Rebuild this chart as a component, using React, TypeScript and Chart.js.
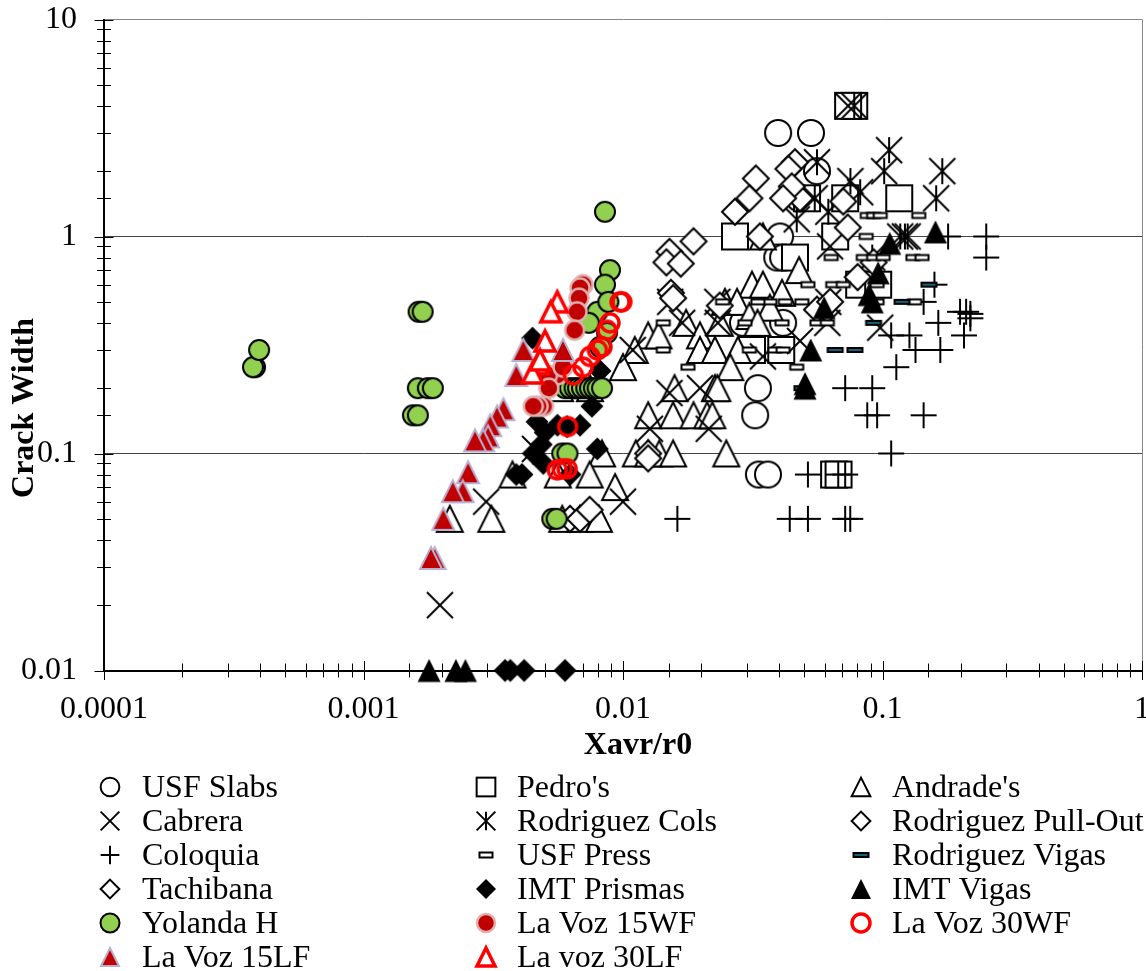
import React, { useEffect, useRef } from "react";
import { Chart, registerables } from "chart.js";

Chart.register(...registerables);

const usfSlabsX = [0.0396, 0.053, 0.0559, 0.0477, 0.0403, 0.0393, 0.0414, 0.0331, 0.0323, 0.0334, 0.0362, 0.0414, 0.029];
const usfSlabsY = [3, 3, 2, 1.5, 1, 0.8, 0.8, 0.2, 0.15, 0.08, 0.08, 0.4, 0.4];
const pedroX = [0.0778, 0.0737, 0.027, 0.046, 0.0512, 0.0718, 0.116, 0.0657, 0.0813, 0.0962, 0.0314, 0.0407, 0.0651, 0.0677];
const pedroY = [4, 4, 1, 0.8, 1.5, 1.5, 1.5, 1, 0.6, 0.6, 0.3, 0.3, 0.08, 0.08];
const andradeX = [0.0346, 0.0477, 0.0314, 0.0346, 0.0247, 0.0275, 0.041, 0.0368, 0.0307, 0.0125, 0.0137, 0.0175, 0.0198, 0.0198, 0.0226, 0.0277, 0.033, 0.0236, 0.0111, 0.01, 0.0259, 0.0158, 0.0226, 0.0231, 0.0125, 0.0156, 0.0187, 0.0211, 0.0221, 0.0112, 0.0125, 0.0138, 0.0156, 0.025, 0.0083, 0.00375, 0.00561, 0.00744, 0.00932, 0.00215, 0.00311, 0.00583, 0.00683, 0.00808, 0.00572, 0.00746];
const andradeY = [1, 0.7, 0.6, 0.6, 0.5, 0.5, 0.55, 0.47, 0.43, 0.35, 0.35, 0.4, 0.35, 0.3, 0.3, 0.3, 0.4, 0.4, 0.3, 0.25, 0.25, 0.2, 0.2, 0.2, 0.15, 0.15, 0.15, 0.15, 0.15, 0.1, 0.1, 0.1, 0.1, 0.1, 0.1, 0.08, 0.08, 0.08, 0.07, 0.05, 0.05, 0.05, 0.05, 0.05, 0.2, 0.2];
const cabreraX = [0.0737, 0.00197, 0.00297, 0.01, 0.00458, 0.0214, 0.0151, 0.0127, 0.0198, 0.0109, 0.0169, 0.0232, 0.0346, 0.0481, 0.0613, 0.098, 0.0152, 0.0231, 0.0618, 0.0628];
const cabreraY = [4, 0.02, 0.06, 0.06, 0.105, 0.13, 0.19, 0.13, 0.2, 0.3, 0.4, 0.4, 0.28, 0.33, 0.4, 0.38, 0.5, 0.5, 0.5, 0.9];
const rodColsX = [0.106, 0.1015, 0.17, 0.161, 0.0559, 0.0752, 0.082, 0.0467, 0.0618, 0.0548, 0.0913, 0.117, 0.122, 0.125, 0.0778];
const rodColsY = [2.5, 2, 2, 1.5, 2.2, 1.8, 1.6, 1.2, 1.3, 1.5, 0.8, 1, 1, 1, 4];
const rodPullX = [0.0559, 0.0802, 0.0924, 0.0628, 0.0125, 0.0125, 0.0481, 0.00625, 0.00683, 0.00744, 0.0236];
const rodPullY = [0.46, 0.65, 0.76, 0.5, 0.1, 0.095, 1.5, 0.05, 0.05, 0.055, 0.48];
const coloquiaX = [0.251, 0.251, 0.179, 0.1585, 0.144, 0.199, 0.218, 0.164, 0.206, 0.108, 0.127, 0.134, 0.167, 0.113, 0.0718, 0.0913, 0.0873, 0.0953, 0.144, 0.108, 0.0516, 0.0718, 0.0675, 0.0162, 0.0439, 0.0516, 0.0718, 0.0751, 0.218, 0.21];
const coloquiaY = [1, 0.8, 1, 0.6, 0.5, 0.45, 0.44, 0.4, 0.35, 0.35, 0.35, 0.3, 0.3, 0.25, 0.2, 0.2, 0.15, 0.15, 0.15, 0.1, 0.08, 0.08, 0.08, 0.05, 0.05, 0.05, 0.05, 0.05, 0.42, 0.45];
const usfPressX = [0.0873, 0.0924, 0.098, 0.138, 0.0865, 0.0634, 0.0843, 0.0924, 0.1006, 0.131, 0.142, 0.0516, 0.0643, 0.0706, 0.0953, 0.133, 0.0953, 0.0368, 0.0422, 0.0489, 0.0331, 0.0242, 0.0143, 0.0295, 0.041, 0.0559, 0.0613, 0.0143, 0.0307, 0.0385, 0.0414, 0.0178, 0.0467];
const usfPressY = [1.25, 1.25, 1.25, 1.25, 1, 0.8, 0.8, 0.8, 0.8, 0.8, 0.8, 0.6, 0.6, 0.6, 0.6, 0.5, 0.5, 0.5, 0.5, 0.5, 0.5, 0.5, 0.4, 0.4, 0.4, 0.4, 0.4, 0.3, 0.3, 0.3, 0.3, 0.25, 0.25];
const rodVigasX = [0.0924, 0.119, 0.151, 0.0657, 0.0783, 0.0489];
const rodVigasY = [0.4, 0.5, 0.6, 0.3, 0.3, 0.2];
const tachibanaX = [0.0325, 0.0307, 0.027, 0.046, 0.0434, 0.0447, 0.0414, 0.0706, 0.0735, 0.0337, 0.0187, 0.0151, 0.0147, 0.0167, 0.0153, 0.0156];
const tachibanaY = [1.85, 1.5, 1.3, 2.2, 2.05, 1.7, 1.5, 1.45, 1.1, 1, 0.95, 0.85, 0.76, 0.75, 0.55, 0.52];
const imtPrismasX = [0.00351, 0.00368, 0.00416, 0.00598, 0.00448, 0.00759, 0.00466, 0.00501, 0.00559, 0.00683, 0.00609, 0.00796, 0.00388, 0.00408, 0.00451, 0.00484, 0.00493, 0.00625, 0.00815];
const imtPrismasY = [0.01, 0.01, 0.01, 0.01, 0.34, 0.165, 0.14, 0.125, 0.135, 0.135, 0.133, 0.105, 0.08, 0.08, 0.1, 0.11, 0.09, 0.08, 0.24];
const imtVigasX = [0.16, 0.1066, 0.0962, 0.0888, 0.0913, 0.0596, 0.0529, 0.0503, 0.0503, 0.00179, 0.00227, 0.00247];
const imtVigasY = [1.05, 0.93, 0.68, 0.54, 0.5, 0.47, 0.3, 0.21, 0.2, 0.01, 0.01, 0.01];
const yolandaX = [0.000382, 0.000375, 0.000396, 0.00163, 0.00169, 0.00162, 0.00177, 0.00185, 0.00155, 0.00162, 0.00852, 0.00891, 0.00852, 0.00797, 0.00738, 0.00878, 0.00868, 0.00815, 0.00598, 0.00625, 0.00651, 0.00671, 0.00695, 0.00722, 0.00746, 0.00772, 0.00798, 0.0083, 0.00583, 0.00611, 0.00534, 0.00555];
const yolandaY = [0.25, 0.25, 0.3, 0.45, 0.45, 0.2, 0.2, 0.2, 0.15, 0.15, 1.3, 0.7, 0.6, 0.45, 0.4, 0.5, 0.36, 0.31, 0.2, 0.2, 0.2, 0.2, 0.2, 0.2, 0.2, 0.2, 0.2, 0.2, 0.1, 0.1, 0.05, 0.05];
const voz15wfX = [0.00702, 0.00683, 0.00677, 0.00665, 0.00651, 0.00558, 0.00512, 0.00587, 0.00518, 0.00494, 0.00471, 0.00451];
const voz15wfY = [0.6, 0.58, 0.52, 0.45, 0.37, 0.23, 0.23, 0.25, 0.2, 0.165, 0.165, 0.165];
const voz30wfX = [0.00974, 0.0099, 0.00891, 0.0083, 0.00746, 0.00702, 0.00644, 0.00612, 0.00558, 0.00583, 0.00609, 0.00868, 0.00797];
const voz30wfY = [0.5, 0.5, 0.4, 0.31, 0.28, 0.25, 0.23, 0.133, 0.084, 0.085, 0.085, 0.37, 0.3];
const voz15lfX = [0.00413, 0.00587, 0.00388, 0.00346, 0.00327, 0.00308, 0.00302, 0.00289, 0.00269, 0.00253, 0.00241, 0.00221, 0.00203, 0.00188, 0.00182];
const voz15lfY = [0.3, 0.3, 0.23, 0.16, 0.148, 0.135, 0.12, 0.115, 0.115, 0.082, 0.067, 0.067, 0.05, 0.033, 0.033];
const voz30lfX = [0.00558, 0.00527, 0.00501, 0.00471, 0.00448, 0.00479];
const voz30lfY = [0.5, 0.45, 0.33, 0.26, 0.235, 0.27];

const xTickLabels = ["0.0001", "0.001", "0.01", "0.1", "1"];
const yTickLabels = ["0.01", "0.1", "1", "10"];

type Kind = "circle" | "square" | "tri" | "cross" | "star" | "plus" | "diamond" | "press" | "vigas" | "imtDia" | "imtTri" | "yolanda" | "wf15" | "lf15" | "lf30" | "wf30";

function sprite(kind: Kind, f: number): HTMLCanvasElement {
  const c = document.createElement("canvas");
  c.width = 44;
  c.height = 44;
  const g = c.getContext("2d")!;
  g.translate(22, 22);
  g.lineWidth = 2;
  g.strokeStyle = "#000";
  g.fillStyle = "#fff";
  g.lineJoin = "miter";
  const tri = (h: number) => {
    g.beginPath();
    g.moveTo(0, -h);
    g.lineTo(h, h);
    g.lineTo(-h, h);
    g.closePath();
  };
  const dia = (h: number) => {
    g.beginPath();
    g.moveTo(0, -h);
    g.lineTo(h, 0);
    g.lineTo(0, h);
    g.lineTo(-h, 0);
    g.closePath();
  };
  const disc = (r: number) => {
    g.beginPath();
    g.arc(0, 0, r, 0, Math.PI * 2);
  };
  const seg = (a: number, b: number, cc: number, d: number) => {
    g.beginPath();
    g.moveTo(a, b);
    g.lineTo(cc, d);
    g.stroke();
  };
  const u = 13 * f;
  const small = f < 1;
  if (kind === "circle") {
    disc(u);
    g.fill();
    g.stroke();
  } else if (kind === "square") {
    g.fillRect(-u, -u, 2 * u, 2 * u);
    g.strokeRect(-u, -u, 2 * u, 2 * u);
  } else if (kind === "tri") {
    tri(u);
    g.fill();
    g.stroke();
  } else if (kind === "diamond") {
    dia(u);
    g.fill();
    g.stroke();
  } else if (kind === "cross" || kind === "star") {
    seg(-u, -u, u, u);
    seg(-u, u, u, -u);
    if (kind === "star") seg(0, -u, 0, u);
  } else if (kind === "plus") {
    seg(-u, 0, u, 0);
    seg(0, -u, 0, u);
  } else if (kind === "press") {
    g.fillRect(-6.5, -2.5, 13, 5);
    g.strokeRect(-6.5, -2.5, 13, 5);
  } else if (kind === "vigas") {
    g.fillStyle = "#17607a";
    g.fillRect(-7.5, -2, 15, 4);
    g.strokeRect(-7.5, -2, 15, 4);
  } else if (kind === "imtDia") {
    g.fillStyle = "#000";
    dia(small ? 10 : 11.5);
    g.fill();
  } else if (kind === "imtTri") {
    g.fillStyle = "#000";
    tri(small ? 10 : 11.5);
    g.fill();
  } else if (kind === "yolanda") {
    g.fillStyle = "#92d050";
    disc(small ? 9.5 : 10);
    g.fill();
    g.stroke();
  } else if (kind === "wf15") {
    g.fillStyle = "#c00000";
    g.strokeStyle = "#e0b0b0";
    g.lineWidth = 2.5;
    disc(small ? 9 : 9.5);
    g.fill();
    g.stroke();
  } else if (kind === "lf15") {
    g.fillStyle = "#c00000";
    g.strokeStyle = "#b8b0d0";
    g.lineWidth = 2;
    tri(small ? 9 : 11);
    g.fill();
    g.stroke();
  } else if (kind === "lf30") {
    g.strokeStyle = "#ff0000";
    g.lineWidth = 3.5;
    tri(small ? 9 : 10);
    g.fill();
    g.stroke();
  } else if (kind === "wf30") {
    g.strokeStyle = "#ff0000";
    g.lineWidth = 3.5;
    disc(9);
    g.stroke();
  }
  return c;
}

const seriesList: { label: string; xs: number[]; ys: number[]; kind: Kind }[] = [
  { label: "USF Slabs", xs: usfSlabsX, ys: usfSlabsY, kind: "circle" },
  { label: "Pedro's", xs: pedroX, ys: pedroY, kind: "square" },
  { label: "Andrade's", xs: andradeX, ys: andradeY, kind: "tri" },
  { label: "Cabrera", xs: cabreraX, ys: cabreraY, kind: "cross" },
  { label: "Rodriguez Cols", xs: rodColsX, ys: rodColsY, kind: "star" },
  { label: "Rodriguez Pull-Out", xs: rodPullX, ys: rodPullY, kind: "diamond" },
  { label: "Coloquia", xs: coloquiaX, ys: coloquiaY, kind: "plus" },
  { label: "USF Press", xs: usfPressX, ys: usfPressY, kind: "press" },
  { label: "Rodriguez Vigas", xs: rodVigasX, ys: rodVigasY, kind: "vigas" },
  { label: "Tachibana", xs: tachibanaX, ys: tachibanaY, kind: "diamond" },
  { label: "IMT Prismas", xs: imtPrismasX, ys: imtPrismasY, kind: "imtDia" },
  { label: "IMT Vigas", xs: imtVigasX, ys: imtVigasY, kind: "imtTri" },
  { label: "Yolanda H", xs: yolandaX, ys: yolandaY, kind: "yolanda" },
  { label: "La Voz 15WF", xs: voz15wfX, ys: voz15wfY, kind: "wf15" },
  { label: "La Voz 30WF", xs: voz30wfX, ys: voz30wfY, kind: "wf30" },
  { label: "La Voz 15LF", xs: voz15lfX, ys: voz15lfY, kind: "lf15" },
  { label: "La voz 30LF", xs: voz30lfX, ys: voz30lfY, kind: "lf30" },
];

const FONT = '"Liberation Serif", "Times New Roman", serif';
const isDecade = (v: number) => Math.abs(Math.log10(v) - Math.round(Math.log10(v))) < 1e-6;

const frame = {
  id: "frame",
  beforeDatasetsDraw(chart: any) {
    const g = chart.ctx;
    const { x, y } = chart.scales;
    g.save();
    g.strokeStyle = "#000";
    g.lineWidth = 1;
    g.beginPath();
    for (const t of x.ticks) {
      const px = Math.round(x.getPixelForValue(t.value)) + 0.5;
      const h = isDecade(t.value) ? 9.5 : 7;
      g.moveTo(px, chart.chartArea.bottom - h);
      g.lineTo(px, chart.chartArea.bottom + h);
    }
    for (const t of y.ticks) {
      const py = Math.round(y.getPixelForValue(t.value)) + 0.5;
      const h = isDecade(t.value) ? 9.5 : 7;
      g.moveTo(chart.chartArea.left - h, py);
      g.lineTo(chart.chartArea.left + h, py);
    }
    g.stroke();
    g.restore();
  },
  afterDraw(chart: any) {
    const g = chart.ctx;
    g.save();
    g.fillStyle = "#000";
    g.textBaseline = "middle";
    g.font = `bold 32px ${FONT}`;
    g.textAlign = "center";
    g.fillText("Xavr/r0", 638, 746);
    g.save();
    g.translate(25, 408);
    g.rotate(-Math.PI / 2);
    g.fillText("Crack Width", 0, 0);
    g.restore();
    g.textAlign = "left";
    g.font = `32px ${FONT}`;
    const cols = [110, 486, 861];
    const textCols = [142, 517, 892];
    const rowsY = [787, 821, 855, 889, 923, 957];
    seriesList.forEach((s, i) => {
      const cx = cols[i % 3];
      const cy = rowsY[Math.floor(i / 3)];
      const m = sprite(s.kind, 0.72);
      g.drawImage(m, cx - 22, cy - 22);
      g.fillText(s.label, textCols[i % 3], cy + 2);
    });
    g.restore();
  },
};

export default function App() {
  const ref = useRef<HTMLCanvasElement>(null);
  useEffect(() => {
    document.body.style.margin = "0";
    const chart = new Chart(ref.current!, {
      type: "scatter",
      data: {
        datasets: seriesList.map((s, i) => ({
          label: s.label,
          data: s.xs.map((v, j) => ({ x: v, y: s.ys[j] })),
          pointStyle: sprite(s.kind, 1),
          pointRadius: 13,
          showLine: false,
          clip: false,
          order: seriesList.length - i,
        })),
      },
      options: {
        animation: false,
        responsive: false,
        devicePixelRatio: 1,
        layout: { autoPadding: false, padding: { left: 0, right: 4, top: 19.5, bottom: 0 } },
        plugins: { legend: { display: false }, tooltip: { enabled: false } },
        scales: {
          x: {
            type: "logarithmic",
            min: 0.0001,
            max: 1,
            afterFit(s: any) {
              s.height = 300.5;
              s.paddingLeft = 0;
              s.paddingRight = 0;
            },
            border: { display: true, color: "#000", width: 2 },
            grid: {
              drawTicks: false,
              color: (c: any) => (c.tick && c.tick.value === 1 ? "#888" : "rgba(0,0,0,0)"),
            },
            ticks: {
              autoSkip: false,
              maxRotation: 0,
              padding: 20,
              color: "#000",
              font: { family: FONT, size: 32 },
              callback: (v: any) => xTickLabels.find((l) => Number(l) === Number(v)) ?? "",
            },
          },
          y: {
            type: "logarithmic",
            min: 0.01,
            max: 10,
            afterFit(s: any) {
              s.width = 104;
              s.paddingTop = 0;
              s.paddingBottom = 0;
            },
            border: { display: true, color: "#000", width: 2 },
            grid: {
              drawTicks: false,
              color: (c: any) => {
                const v = c.tick && c.tick.value;
                if (v === 10) return "#888";
                if (v === 1 || v === 0.1) return "#444";
                return "rgba(0,0,0,0)";
              },
            },
            ticks: {
              autoSkip: false,
              padding: 27,
              color: "#000",
              font: { family: FONT, size: 32 },
              callback: (v: any) => yTickLabels.find((l) => Number(l) === Number(v)) ?? "",
            },
          },
        },
      } as any,
      plugins: [frame],
    });
    return () => chart.destroy();
  }, []);
  return <canvas ref={ref} width={1146} height={971} style={{ display: "block" }} />;
}
